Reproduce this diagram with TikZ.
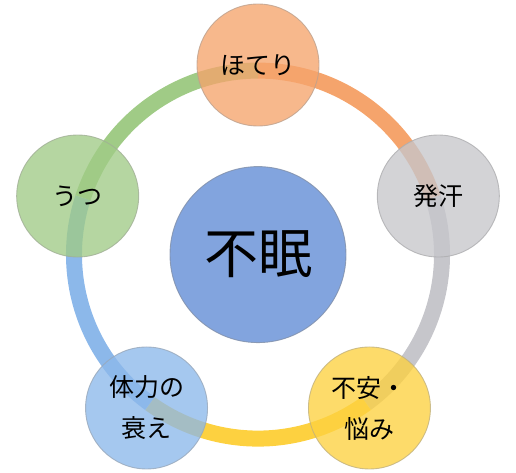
\documentclass[tikz,border=0pt]{standalone}
\usepackage{fontspec}
\usepackage{xcolor}
\usepackage{tikz}
\newfontfamily\jpfont{Noto Sans CJK JP}
\definecolor{slHot}{HTML}{F5A46C}
\definecolor{slSweat}{HTML}{C6C6CB}
\definecolor{slAnx}{HTML}{FDD140}
\definecolor{slBody}{HTML}{8CB8EA}
\definecolor{slDep}{HTML}{A0CB86}
\definecolor{slCore}{HTML}{7B9FDC}
\newcommand{\ringR}{184}

\begin{document}
\begin{tikzpicture}[
  x=1pt, y=1pt,
  font=\jpfont,
  core/.style={circle, draw=slCore!60!black!70, line width=0.9pt, fill=slCore, fill opacity=0.95,
               draw opacity=0.8, text opacity=1, text=black, font=\jpfont\fontsize{54}{60}\selectfont,
               minimum size=176pt, inner sep=0pt},
  sym/.style={circle, draw=#1!60!black!60, line width=0.9pt, fill=#1, fill opacity=0.78,
              draw opacity=0.8, text opacity=1, text=black, font=\jpfont\fontsize{25}{41}\selectfont,
              align=center, minimum size=122pt, inner sep=0pt},
  ring/.style={draw=#1, line width=16pt, line cap=butt},
]
\useasboundingbox (-258,-218.4) rectangle (258,254.6);

% ── Centre ──────────────────────────────────────────────────────────────────
\node[core] (insom) at (0,0) {不眠};

% ── Ring segments (under the symptom circles) ───────────────────────────────
\draw[ring=slHot]   ([shift={(90:\ringR)}]insom.center)   arc[start angle=90,   end angle=18,   radius=\ringR];
\draw[ring=slSweat] ([shift={(18:\ringR)}]insom.center)   arc[start angle=18,   end angle=-54,  radius=\ringR];
\draw[ring=slAnx]   ([shift={(-54:\ringR)}]insom.center)  arc[start angle=-54,  end angle=-126, radius=\ringR];
\draw[ring=slBody]  ([shift={(-126:\ringR)}]insom.center) arc[start angle=-126, end angle=-198, radius=\ringR];
\draw[ring=slDep]   ([shift={(162:\ringR)}]insom.center)  arc[start angle=162,  end angle=90,   radius=\ringR];

% ── Symptoms (outer ring) ───────────────────────────────────────────────────
\node[sym=slHot]   (hot)   at (90:189.6)   {ほてり};
\node[sym=slSweat] (sweat) at (18:189.6)   {発汗};
\node[sym=slAnx]   (anx)   at (-54:189.6)  {不安・\\悩み};
\node[sym=slBody]  (body)  at (-126:189.6) {体力の\\衰え};
\node[sym=slDep]   (dep)   at (162:189.6)  {うつ};

\end{tikzpicture}
\end{document}
